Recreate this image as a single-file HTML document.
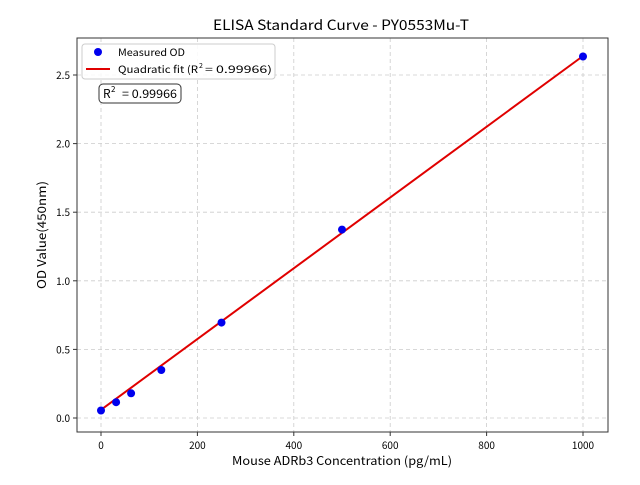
<!DOCTYPE html>
<html><head><meta charset="utf-8"><style>
body{margin:0;background:#fff}
svg text{font-family:"WenQuanYi Zen Hei","Noto Sans CJK SC","Liberation Sans",sans-serif;fill:#000}
</style></head><body>
<svg width="640" height="480" xmlns="http://www.w3.org/2000/svg">
<rect width="640" height="480" fill="#fff"/>
<g stroke="#ccc" stroke-dasharray="4,3" stroke-width="0.8">
<line x1="101" y1="38" x2="101" y2="432"/><line x1="197.4" y1="38" x2="197.4" y2="432"/>
<line x1="293.8" y1="38" x2="293.8" y2="432"/><line x1="390.2" y1="38" x2="390.2" y2="432"/>
<line x1="486.6" y1="38" x2="486.6" y2="432"/><line x1="583" y1="38" x2="583" y2="432"/>
<line x1="77" y1="418" x2="608" y2="418"/><line x1="77" y1="349.4" x2="608" y2="349.4"/>
<line x1="77" y1="280.8" x2="608" y2="280.8"/><line x1="77" y1="212.2" x2="608" y2="212.2"/>
<line x1="77" y1="143.6" x2="608" y2="143.6"/><line x1="77" y1="75" x2="608" y2="75"/>
</g>
<polyline fill="none" stroke="#e00000" stroke-width="2" points="101,409.8 583,56"/>
<g fill="#0000ee">
<circle cx="101" cy="410.5" r="4"/><circle cx="116.1" cy="402.2" r="4"/><circle cx="131.1" cy="393.3" r="4"/>
<circle cx="161.3" cy="370" r="4"/><circle cx="221.5" cy="322.6" r="4"/><circle cx="342" cy="229.6" r="4"/>
<circle cx="583" cy="56.5" r="4"/></g>
<rect x="77" y="38" width="531" height="394" fill="none" stroke="#333" stroke-width="1"/>
<g stroke="#333"><line x1="101" y1="432" x2="101" y2="436"/><line x1="197.4" y1="432" x2="197.4" y2="436"/><line x1="293.8" y1="432" x2="293.8" y2="436"/><line x1="390.2" y1="432" x2="390.2" y2="436"/><line x1="486.6" y1="432" x2="486.6" y2="436"/><line x1="583" y1="432" x2="583" y2="436"/>
<line x1="73" y1="418" x2="77" y2="418"/><line x1="73" y1="349.4" x2="77" y2="349.4"/><line x1="73" y1="280.8" x2="77" y2="280.8"/><line x1="73" y1="212.2" x2="77" y2="212.2"/><line x1="73" y1="143.6" x2="77" y2="143.6"/><line x1="73" y1="75" x2="77" y2="75"/></g>
<g font-size="10" text-anchor="middle">
<text x="101" y="449">0</text><text x="197.4" y="449">200</text><text x="293.8" y="449">400</text><text x="390.2" y="449">600</text><text x="486.6" y="449">800</text><text x="583" y="449">1000</text></g>
<g font-size="10" text-anchor="end">
<text x="70" y="422">0.0</text><text x="70" y="353.4">0.5</text><text x="70" y="284.8">1.0</text><text x="70" y="216.2">1.5</text><text x="70" y="147.6">2.0</text><text x="70" y="79">2.5</text></g>
<text x="232" y="465" font-size="12" textLength="220" lengthAdjust="spacingAndGlyphs">Mouse ADRb3 Concentration (pg/mL)</text>
<text transform="translate(46,289) rotate(-90)" font-size="12" textLength="108" lengthAdjust="spacingAndGlyphs">OD Value(450nm)</text>
<text x="213" y="30" font-size="14" textLength="256" lengthAdjust="spacingAndGlyphs">ELISA Standard Curve - PY0553Mu-T</text>
<rect x="82" y="44" width="193" height="35" rx="3" fill="#fff" fill-opacity="0.85" stroke="#ccc"/>
<circle cx="98" cy="52" r="4" fill="#0000ee"/>
<line x1="86" y1="69" x2="110" y2="69" stroke="#e00000" stroke-width="2"/>
<text x="118" y="56" font-size="10" textLength="67" lengthAdjust="spacingAndGlyphs">Measured OD</text>
<text x="118" y="73" font-size="10" textLength="80" lengthAdjust="spacingAndGlyphs">Quadratic fit (R</text>
<text x="199" y="68" font-size="7">2</text>
<text x="205" y="73" font-size="10" textLength="67" lengthAdjust="spacingAndGlyphs">= 0.99966)</text>
<rect x="99" y="84" width="82" height="19" rx="4" fill="#fff" stroke="#333"/>
<text x="103" y="98" font-size="12">R</text>
<text x="111" y="92" font-size="8">2</text>
<text x="122" y="98" font-size="12" textLength="55" lengthAdjust="spacingAndGlyphs">= 0.99966</text>
</svg>
</body></html>
